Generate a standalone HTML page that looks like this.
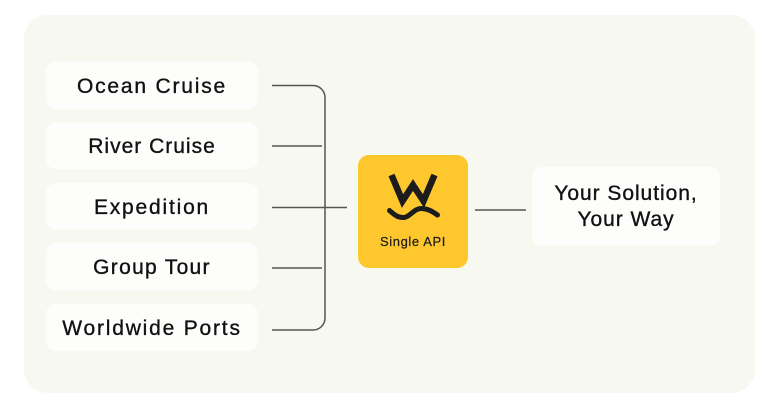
<!DOCTYPE html>
<html>
<head>
<meta charset="utf-8">
<style>
  html, body { margin: 0; padding: 0; }
  body { width: 768px; height: 416px; background: #ffffff; position: relative; overflow: hidden;
         font-family: "Liberation Sans", "DejaVu Sans", sans-serif; }
  .panel { position: absolute; left: 24px; top: 15px; width: 731px; height: 378px;
           background: #F7F8EF; border-radius: 24px; }
  .card { position: absolute; left: 46px; width: 212px; height: 47px; background: #FDFDFC;
          border-radius: 10px; display: flex; align-items: center; justify-content: center;
          font-size: 21px; color: #111; line-height: 47px; white-space: nowrap;
          -webkit-text-stroke: 0.35px #111; padding-top: 1px; box-sizing: border-box; }
  .yellow { position: absolute; left: 358px; top: 155px; width: 110px; height: 113px;
            background: #FEC72E; border-radius: 11px; }
  .api { position: absolute; left: 358px; width: 110px; top: 233px; height: 18px; line-height: 18px;
         text-align: center; font-size: 13px; color: #1a1a1a; letter-spacing: 0.6px;
         -webkit-text-stroke: 0.2px #1a1a1a; }
  .sol { position: absolute; left: 532px; top: 167px; width: 188px; height: 79px; background: #FDFDFC;
         border-radius: 10px; display: flex; flex-direction: column; align-items: center; justify-content: center;
         font-size: 21px; color: #111; line-height: 26.5px; letter-spacing: 0.95px;
         -webkit-text-stroke: 0.35px #111; padding-top: 1px; box-sizing: border-box; }
  svg { position: absolute; left: 0; top: 0; }
</style>
</head>
<body>
  <div class="panel"></div>

  <div class="card" style="top:62px; letter-spacing:1.8px;">Ocean Cruise</div>
  <div class="card" style="top:122px; letter-spacing:1.0px;">River Cruise</div>
  <div class="card" style="top:183px; letter-spacing:1.8px;">Expedition</div>
  <div class="card" style="top:243px; letter-spacing:1.3px;">Group Tour</div>
  <div class="card" style="top:304px; letter-spacing:1.8px;">Worldwide Ports</div>

  <svg width="768" height="416" viewBox="0 0 768 416">
    <g fill="none" stroke="#555" stroke-width="1.5">
      <path d="M272 85.5 H313 A12 12 0 0 1 325 97.5 V318 A12 12 0 0 1 313 330 H272"/>
      <path d="M272 146 H322"/>
      <path d="M272 207.5 H347"/>
      <path d="M272 268 H322"/>
      <path d="M475 210 H526"/>
    </g>
  </svg>

  <div class="yellow"></div>
  <svg width="768" height="416" viewBox="0 0 768 416">
    <g fill="none" stroke="#1c1c1c" stroke-linecap="butt">
      <path d="M391.5 175 L402.5 201 L413 185 L423.5 201 L434.5 175" stroke-width="6.5" stroke-linejoin="miter" stroke-miterlimit="3"/>
      <path d="M389.5 210.5 C394 214.5 398 218 404 217.5 C410 217 414 208 422 208.5 C429 209 433 212 437.5 215" stroke-width="5" stroke-linecap="round"/>
    </g>
  </svg>
  <div class="api">Single API</div>

  <div class="sol"><div>Your Solution,</div><div>Your Way</div></div>
</body>
</html>
